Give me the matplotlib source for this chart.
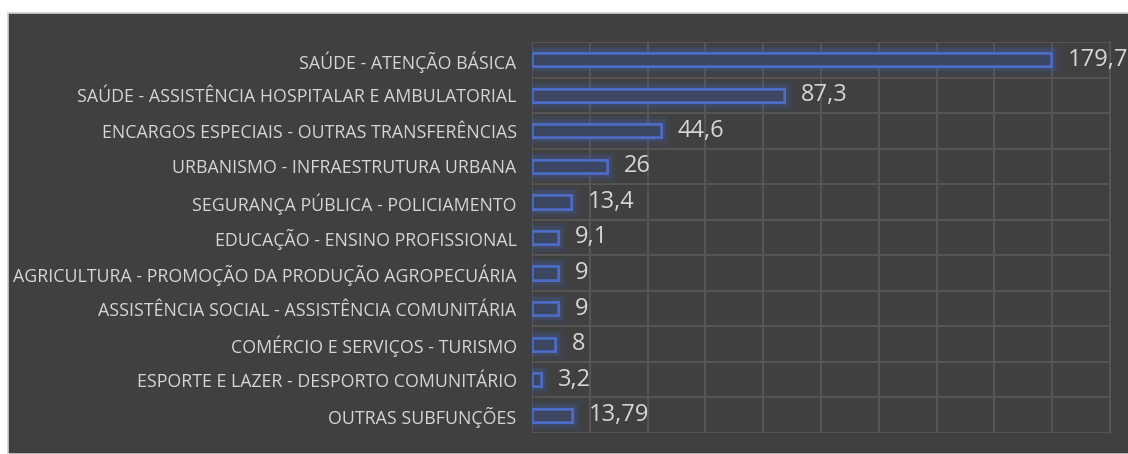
import numpy as np
import matplotlib
matplotlib.use("Agg")
from matplotlib import pyplot as plt
from matplotlib import patches as pat
from matplotlib import patheffects as pe

categorias = [
    "SAÚDE - ATENÇÃO BÁSICA",
    "SAÚDE - ASSISTÊNCIA HOSPITALAR E AMBULATORIAL",
    "ENCARGOS ESPECIAIS - OUTRAS TRANSFERÊNCIAS",
    "URBANISMO - INFRAESTRUTURA URBANA",
    "SEGURANÇA PÚBLICA - POLICIAMENTO",
    "EDUCAÇÃO - ENSINO PROFISSIONAL",
    "AGRICULTURA - PROMOÇÃO DA PRODUÇÃO AGROPECUÁRIA",
    "ASSISTÊNCIA SOCIAL - ASSISTÊNCIA COMUNITÁRIA",
    "COMÉRCIO E SERVIÇOS - TURISMO",
    "ESPORTE E LAZER - DESPORTO COMUNITÁRIO",
    "OUTRAS SUBFUNÇÕES",
]
valores = [179.7, 87.3, 44.6, 26, 13.4, 9.1, 9, 9, 8, 3.2, 13.79]
rotulos = ["179,7", "87,3", "44,6", "26", "13,4", "9,1", "9", "9", "8", "3,2", "13,79"]

fundo = "#404040"
grade = "#555555"
texto = "#d6d6d6"

plt.rcParams["font.family"] = ["Open Sans", "DejaVu Sans"]

fig = plt.figure(figsize=(11.28, 4.54), dpi=100)
fig.patch.set_facecolor("white")

# painel escuro
painel = pat.Rectangle((8 / 1128, 0), 1, 1 - 13 / 454, transform=fig.transFigure,
                       facecolor=fundo, edgecolor="#cfcfcf", linewidth=1.2, zorder=-10)
fig.patches.append(painel)

ax = fig.add_axes([532 / 1128, 21 / 454, (1110 - 532) / 1128, (433 - 42) / 454])
ax.set_facecolor(fundo)

y = np.arange(len(categorias))
barras = ax.barh(y, valores, height=0.37, color="#3b4661", edgecolor="#4d6cc6",
                 linewidth=1.8, zorder=3)
for b in barras:
    b.set_path_effects([pe.withStroke(linewidth=12, foreground="#3e5aa8", alpha=0.12),
                        pe.withStroke(linewidth=7, foreground="#4360b0", alpha=0.25),
                        pe.Normal()])

for yi, v, r in zip(y, valores, rotulos):
    ax.annotate(r, (v, yi), xytext=(12, 0), textcoords="offset points",
                va="center", ha="left", color=texto, fontsize=17, annotation_clip=False)

ax.set_xlim(0, 200)
ax.set_ylim(len(categorias) - 0.5, -0.5)
ax.set_xticks(np.arange(0, 201, 20))
ax.set_yticks(y)
ax.set_yticklabels(categorias)
ax.set_yticks(np.arange(-0.5, len(categorias), 1), minor=True)
ax.tick_params(axis="y", which="both", length=0, pad=11, labelsize=12.8, labelcolor=texto)
ax.tick_params(axis="x", length=0, labelbottom=False)
ax.grid(True, axis="x", color=grade, linewidth=1.5, zorder=0)
ax.grid(True, axis="y", which="minor", color=grade, linewidth=1.5, zorder=0)
for s in ax.spines.values():
    s.set_visible(False)
ax.spines["right"].set_visible(True)
ax.spines["right"].set_color(grade)
ax.spines["right"].set_linewidth(1.5)

fig.savefig("out.png", dpi=100, facecolor=fig.get_facecolor())
